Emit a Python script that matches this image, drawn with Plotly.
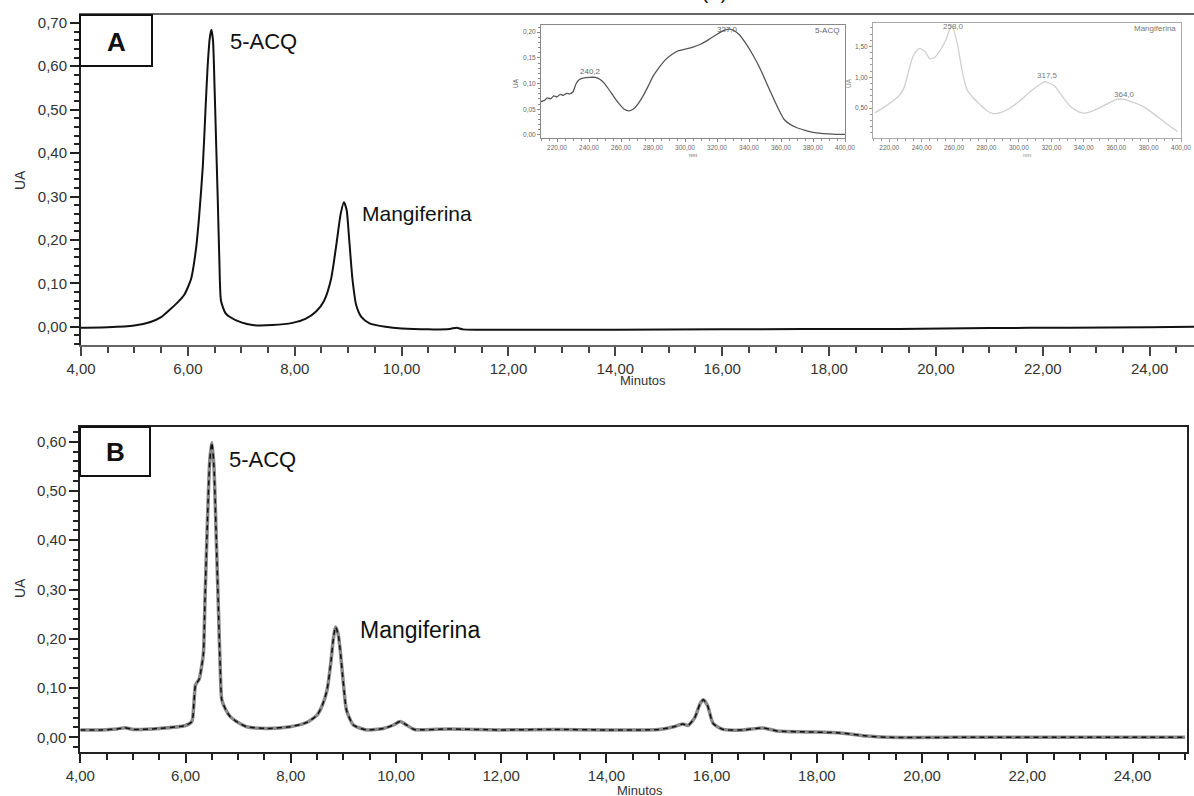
import plotly.graph_objects as go

W, H = 1194, 796

# ---------------- chromatogram A ----------------
time_a = [4.0, 4.5, 5.0, 5.3, 5.5, 5.65, 5.8, 5.93, 6.06, 6.15, 6.21, 6.28, 6.33, 6.37,
          6.41, 6.44, 6.47, 6.50, 6.53, 6.56, 6.59, 6.62, 6.70, 6.78, 7.0, 7.21, 7.58,
          7.96, 8.2, 8.4, 8.55, 8.68, 8.78, 8.86, 8.92, 8.97, 9.02, 9.08, 9.15, 9.25,
          9.4, 9.7, 10.0, 10.5, 10.9, 11.03, 11.15, 12.0, 14.0, 16.0, 17.5, 19.3, 21.0,
          22.5, 24.0, 24.9]
ua_a = [-0.002, -0.001, 0.003, 0.011, 0.022, 0.038, 0.055, 0.073, 0.11, 0.177, 0.253,
        0.37, 0.50, 0.60, 0.665, 0.684, 0.66, 0.55, 0.42, 0.29, 0.15, 0.06, 0.032, 0.023,
        0.01, 0.004, 0.004, 0.009, 0.018, 0.035, 0.06, 0.11, 0.19, 0.26, 0.287, 0.27,
        0.20, 0.11, 0.05, 0.022, 0.008, 0.0, -0.004, -0.006, -0.005, -0.002, -0.006,
        -0.007, -0.007, -0.006, -0.005, -0.005, -0.003, -0.002, -0.001, 0.0]

# ---------------- chromatogram B ----------------
time_b = [4.0, 4.4, 4.7, 4.85, 5.0, 5.5, 6.0, 6.12, 6.16, 6.19, 6.26, 6.3, 6.34, 6.37,
          6.42, 6.46, 6.50, 6.54, 6.58, 6.62, 6.66, 6.69, 6.77, 6.85, 7.0, 7.16, 7.54,
          7.99, 8.3, 8.5, 8.6, 8.69, 8.76, 8.81, 8.85, 8.9, 8.94, 9.0, 9.06, 9.19, 9.44,
          9.76, 9.95, 10.08, 10.2, 10.35, 11.0, 12.0, 13.0, 14.0, 15.0, 15.3, 15.45,
          15.55, 15.68, 15.78, 15.84, 15.92, 16.03, 16.22, 16.6, 16.98, 17.24, 17.8,
          18.44, 18.95, 19.33, 21.0, 23.0, 25.0]
ua_b = [0.015, 0.015, 0.017, 0.0195, 0.016, 0.018, 0.024, 0.032, 0.07, 0.106, 0.118,
        0.14, 0.17, 0.28, 0.45, 0.56, 0.598, 0.55, 0.42, 0.28, 0.14, 0.076, 0.055,
        0.042, 0.03, 0.0215, 0.018, 0.0215, 0.03, 0.045, 0.065, 0.096, 0.15, 0.2,
        0.224, 0.21, 0.177, 0.11, 0.055, 0.025, 0.015, 0.018, 0.025, 0.032, 0.025,
        0.016, 0.017, 0.015, 0.016, 0.015, 0.016, 0.022, 0.027, 0.024, 0.04, 0.068,
        0.076, 0.065, 0.028, 0.016, 0.015, 0.019, 0.013, 0.011, 0.009, 0.0026, 0.0,
        0.0, 0.0, 0.0]

# ---------------- UV spectra (insets) ----------------
nm_acq = [210, 212, 214, 216, 218, 220, 222, 224, 226, 228, 230, 232, 234, 237, 240,
          244, 247, 250, 253, 256, 259, 262, 265, 268, 271, 274, 277, 280, 284, 288,
          292, 296, 300, 305, 310, 315, 320, 324, 327, 330, 334, 338, 342, 346, 350,
          354, 358, 362, 366, 370, 375, 380, 385, 390, 395, 400]
uv_acq = [0.065, 0.067, 0.072, 0.070, 0.076, 0.074, 0.079, 0.077, 0.081, 0.080, 0.084,
          0.100, 0.108, 0.111, 0.112, 0.112, 0.108, 0.099, 0.086, 0.072, 0.060, 0.050,
          0.047, 0.051, 0.062, 0.077, 0.095, 0.114, 0.132, 0.147, 0.157, 0.164, 0.167,
          0.171, 0.177, 0.186, 0.196, 0.203, 0.206, 0.204, 0.195, 0.178, 0.158, 0.135,
          0.108, 0.080, 0.053, 0.030, 0.020, 0.014, 0.009, 0.005, 0.003, 0.002, 0.001,
          0.001]

nm_mang = [211, 216, 222, 226, 229, 231, 233, 235, 238.6, 242, 245, 248, 251, 255,
           258.5, 262, 265, 268, 272, 276, 280, 284, 289, 295, 300, 305, 310, 316,
           322, 327, 332, 337, 341, 346, 351, 356, 361, 365, 369, 373, 377, 382, 388,
           393, 398]
uv_mang = [0.42, 0.50, 0.61, 0.70, 0.82, 1.00, 1.20, 1.36, 1.47, 1.42, 1.30, 1.32,
           1.42, 1.61, 1.85, 1.55, 1.10, 0.80, 0.66, 0.56, 0.46, 0.41, 0.43, 0.51,
           0.605, 0.72, 0.83, 0.93, 0.86, 0.68, 0.52, 0.44, 0.42, 0.46, 0.52, 0.59,
           0.645, 0.64, 0.605, 0.57, 0.52, 0.43, 0.31, 0.21, 0.12]

x_ticks_main = [4, 6, 8, 10, 12, 14, 16, 18, 20, 22, 24]

FONT = "Liberation Sans, Arial, sans-serif"
TICKFONT = dict(family=FONT, size=15, color="#333333")


def px_x(p):
    return p / W


def px_y(p):
    return 1 - p / H


fig = go.Figure()

fig.add_trace(go.Scatter(x=time_a, y=ua_a, mode="lines", xaxis="x", yaxis="y",
                         line=dict(color="#111111", width=2, shape="spline", smoothing=0.6),
                         hoverinfo="skip", showlegend=False))

fig.add_trace(go.Scatter(x=time_b, y=ua_b, mode="lines", xaxis="x2", yaxis="y2",
                         line=dict(color="#8a8a8a", width=3.5, shape="spline", smoothing=0.6),
                         hoverinfo="skip", showlegend=False))
fig.add_trace(go.Scatter(x=time_b, y=ua_b, mode="lines", xaxis="x2", yaxis="y2",
                         line=dict(color="#111111", width=1.5, dash="5px,4px",
                                   shape="spline", smoothing=0.6),
                         hoverinfo="skip", showlegend=False))

fig.add_trace(go.Scatter(x=nm_acq, y=uv_acq, mode="lines", xaxis="x3", yaxis="y3",
                         line=dict(color="#555555", width=1.3, shape="spline", smoothing=0.5),
                         hoverinfo="skip", showlegend=False))
fig.add_trace(go.Scatter(x=nm_mang, y=uv_mang, mode="lines", xaxis="x4", yaxis="y4",
                         line=dict(color="#cfcfcf", width=1.3, shape="spline", smoothing=0.5),
                         hoverinfo="skip", showlegend=False))

main_x = dict(tickmode="array", tickvals=x_ticks_main, tickformat=".2f",
              ticks="outside", ticklen=9, tickwidth=2, showgrid=False, zeroline=False,
              showline=True, linewidth=2, tickfont=TICKFONT, automargin=False,
              minor=dict(dtick=0.5, tick0=4, ticks="outside", ticklen=6, tickwidth=2,
                         showgrid=False))
main_y = dict(dtick=0.1, tick0=0, tickformat=".2f", ticks="outside", ticklen=9,
              tickwidth=2, showgrid=False, zeroline=False, showline=True, linewidth=2,
              linecolor="#222222", tickcolor="#222222", tickfont=TICKFONT,
              automargin=False,
              minor=dict(dtick=0.02, tick0=0, ticks="outside", ticklen=5, tickwidth=1.5,
                         tickcolor="#222222", showgrid=False))

inset_font = dict(family=FONT, size=6.5, color="#666666")
inset_x = dict(range=[210, 400], tickmode="array", tickvals=list(range(220, 401, 20)),
               tickformat=".2f", ticks="outside", ticklen=3, showgrid=False,
               zeroline=False, showline=True, mirror=True, linewidth=1,
               tickfont=inset_font, automargin=False,
               minor=dict(dtick=5, tick0=210, ticks="outside", ticklen=2, showgrid=False))

fig.update_layout(
    width=W, height=H,
    margin=dict(l=0, r=0, t=0, b=0, pad=0, autoexpand=False),
    paper_bgcolor="white", plot_bgcolor="white",
    separators=", ",
    xaxis=dict(main_x, domain=[px_x(81), 1.0], range=[4, 24.83], anchor="y",
               linecolor="#666666", tickcolor="#444444", mirror=True),
    yaxis=dict(main_y, domain=[px_y(345), px_y(15)], range=[-0.042, 0.718], anchor="x"),
    xaxis2=dict(main_x, domain=[px_x(80.3), px_x(1186.7)], range=[4, 25.03], anchor="y2",
                linecolor="#222222", tickcolor="#222222", mirror=True),
    yaxis2=dict(main_y, domain=[px_y(751.7), px_y(427)], range=[-0.0292, 0.6298],
                anchor="x2", mirror=True),
    xaxis3=dict(inset_x, domain=[px_x(541), px_x(845)], anchor="y3",
                linecolor="#888888", tickcolor="#888888", minor_tickcolor="#888888"),
    yaxis3=dict(domain=[px_y(138), px_y(25)], range=[-0.006, 0.214], anchor="x3",
                dtick=0.05, tick0=0, tickformat=".2f", ticks="outside", ticklen=3,
                showgrid=False, zeroline=False, showline=True, mirror=True, linewidth=1,
                linecolor="#888888", tickcolor="#888888", tickfont=inset_font,
                automargin=False,
                minor=dict(dtick=0.01, tick0=0, ticks="outside", ticklen=2,
                           tickcolor="#888888", showgrid=False)),
    xaxis4=dict(inset_x, domain=[px_x(873), px_x(1181)], anchor="y4",
                linecolor="#aaaaaa", tickcolor="#999999", minor_tickcolor="#999999"),
    yaxis4=dict(domain=[px_y(138.3), px_y(23)], range=[0.01, 1.88], anchor="x4",
                tickvals=[0.5, 1.0, 1.5], tickformat=".2f", ticks="outside", ticklen=3,
                showgrid=False, zeroline=False, showline=True, mirror=True, linewidth=1,
                linecolor="#aaaaaa", tickcolor="#999999", tickfont=inset_font,
                automargin=False,
                minor=dict(dtick=0.1, tick0=0, ticks="outside", ticklen=2,
                           tickcolor="#999999", showgrid=False)),
)

annotations = []


def note(text, x, y, size, xanchor="left", yanchor="middle", color="#111111",
         bold=False, angle=0):
    annotations.append(dict(
        text=f"<b>{text}</b>" if bold else text, xref="paper", yref="paper",
        x=px_x(x), y=px_y(y), xanchor=xanchor, yanchor=yanchor, showarrow=False,
        textangle=angle, font=dict(family=FONT, size=size, color=color)))


# panel letters in boxes
fig.add_shape(type="rect", xref="paper", yref="paper", x0=px_x(80), x1=px_x(152),
              y0=px_y(66), y1=px_y(15), line=dict(color="#111111", width=2),
              fillcolor="white")
fig.add_shape(type="rect", xref="paper", yref="paper", x0=px_x(80), x1=px_x(150),
              y0=px_y(476), y1=px_y(427), line=dict(color="#111111", width=2),
              fillcolor="white")
note("A", 116, 42, 26, xanchor="center", bold=True)
note("B", 115, 452, 26, xanchor="center", bold=True)

# peak labels
note("5-ACQ", 228, 42, 22)
note("Mangiferina", 360, 213, 21)
note("5-ACQ", 227, 459, 22)
note("Mangiferina", 358, 630, 23)

# axis titles
note("UA", 20, 180, 14, xanchor="center", angle=-90, color="#333333")
note("UA", 20, 588, 14, xanchor="center", angle=-90, color="#333333")
note("Minutos", 643, 381, 13, xanchor="center", color="#333333")
note("Minutos", 640, 790, 13, xanchor="center", color="#333333")

# inset labels
inset_txt = "#666666"
note("240,2", 590, 72, 8, xanchor="center", color=inset_txt)
note("327,0", 727, 30, 8, xanchor="center", color=inset_txt)
note("5-ACQ", 841, 31, 8, xanchor="right", color=inset_txt)
note("UA", 515, 83, 6.5, xanchor="center", angle=-90, color=inset_txt)
note("nm", 693, 155, 6, xanchor="center", color=inset_txt)

note("258,0", 953, 27, 8, xanchor="center", color="#777777")
note("317,5", 1047, 76, 8, xanchor="center", color="#777777")
note("364,0", 1124, 95, 8, xanchor="center", color="#777777")
note("Mangiferina", 1178, 28, 8, xanchor="right", color="#777777")
note("UA", 848, 83, 6.5, xanchor="center", angle=-90, color="#888888")
note("nm", 1027, 155, 6, xanchor="center", color="#888888")

# figure title (top of page)
note("(a)", 715, 5, 22, xanchor="center", yanchor="bottom", color="#222222")

fig.update_layout(annotations=annotations)

fig.write_html("out.html")
